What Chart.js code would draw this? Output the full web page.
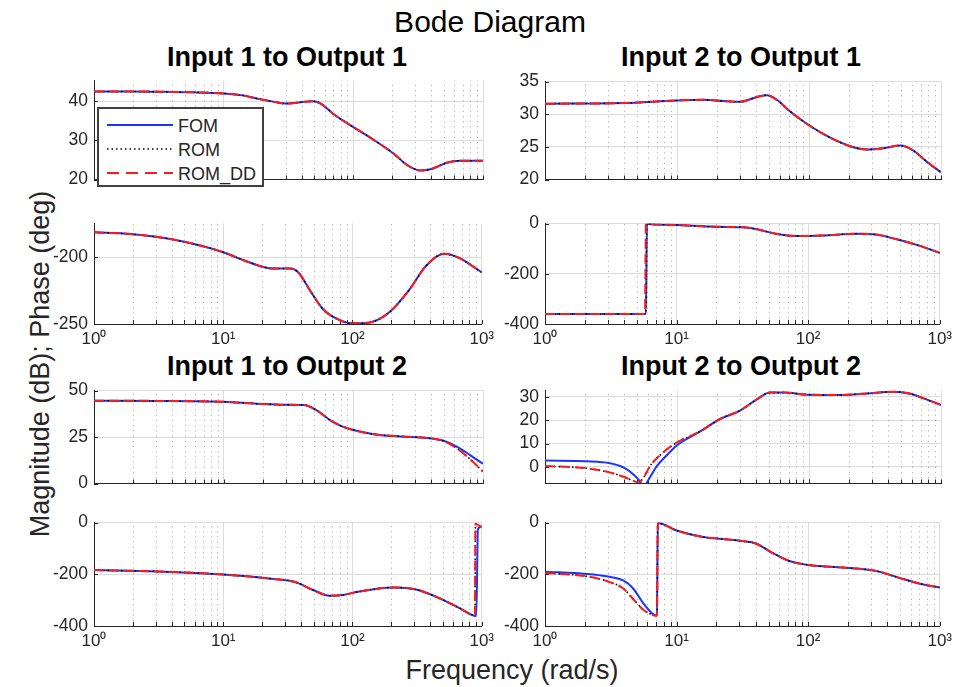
<!DOCTYPE html>
<html>
<head>
<meta charset="utf-8">
<title>Bode Diagram</title>
<script src="https://cdn.jsdelivr.net/npm/chart.js@4.4.1/dist/chart.umd.min.js"></script>
<style>
  body { margin: 0; background: #fff; }
  #wrap { position: relative; width: 971px; height: 687px; overflow: hidden;
          font-family: "Liberation Sans", Arial, Helvetica, sans-serif; color: #262626; }
  #wrap canvas { position: absolute; }
  .txt { position: absolute; white-space: nowrap; line-height: 1; transform: translate(-50%, -50%); }
  .main { font-size: 30px; color: #000; }
  .sub { font-size: 27px; font-weight: bold; color: #000; }
  .lab { font-size: 27px; }
  #ylab { transform: translate(-50%, -50%) rotate(-90deg); }
  #legend { position: absolute; left: 97px; top: 107px; width: 163px; height: 76px;
            border: 2px solid #404040; background: #fff; z-index: 5; }
  #legend .row { position: absolute; left: 0; height: 20px; width: 160px; }
  #legend svg { position: absolute; left: 6px; top: 0; }
  #legend span { position: absolute; left: 79px; top: 1px; font-size: 18px; color: #262626; }
</style>
</head>
<body>
<div id="wrap">
  <div class="txt main" style="left:490px; top:22px;">Bode Diagram</div>
  <div class="txt sub" style="left:287px; top:57px;">Input 1 to Output 1</div>
  <div class="txt sub" style="left:741px; top:57px;">Input 2 to Output 1</div>
  <div class="txt sub" style="left:287px; top:366px;">Input 1 to Output 2</div>
  <div class="txt sub" style="left:741px; top:366px;">Input 2 to Output 2</div>
  <div class="txt lab" id="ylab" style="left:40px; top:364px;">Magnitude (dB); Phase (deg)</div>
  <div class="txt lab" style="left:512px; top:670px;">Frequency (rad/s)</div>

  <div id="legend">
    <div class="row" style="top:6px;">
      <svg width="70" height="20"><line x1="2" y1="10" x2="68" y2="10" stroke="#1a35ff" stroke-width="1.8"/></svg>
      <span>FOM</span>
    </div>
    <div class="row" style="top:30px;">
      <svg width="70" height="20"><line x1="2" y1="10" x2="68" y2="10" stroke="#000" stroke-width="1.5" stroke-dasharray="1.5 3"/></svg>
      <span>ROM</span>
    </div>
    <div class="row" style="top:54px;">
      <svg width="70" height="20"><line x1="2" y1="10" x2="68" y2="10" stroke="#ff1a1a" stroke-width="1.8" stroke-dasharray="12 7"/></svg>
      <span>ROM_DD</span>
    </div>
  </div>
</div>

<script>
// frequencies (rad/s) and responses

// Input 1 to Output 1
const w_i1o1_mag = [1, 2, 3.5, 5.6, 10, 14, 18, 24, 30, 38, 48, 56, 71, 100, 144, 205, 260, 329, 393, 460, 525, 668, 1000];
const fom_i1o1_mag = [42.5, 42.5, 42.4, 42.3, 42.0, 41.5, 40.7, 39.9, 39.4, 39.7, 40.0, 39.4, 36.6, 33.4, 30.1, 26.6, 23.7, 22.3, 22.6, 23.5, 24.3, 24.8, 24.8];
const w_i1o1_ph = [1, 1.92, 4.1, 10, 13.5, 20.4, 24.4, 32.8, 38, 46.6, 59, 79.5, 100, 136, 193, 275, 370, 512, 668, 1000];
const fom_i1o1_ph = [-181.6, -182.9, -187, -196.4, -201.4, -207.4, -208.6, -208.6, -211.4, -224.5, -238.8, -247.1, -249.5, -248.8, -241.2, -224.5, -206.7, -197.6, -200.7, -211.4];

// Input 2 to Output 1
const w_i2o1_mag = [1, 3.9, 10, 15.9, 22.5, 30, 40, 48, 57, 72, 100, 145, 205, 275, 367, 492, 620, 783, 1000];
const fom_i2o1_mag = [31.6, 31.7, 32.1, 32.2, 32.0, 31.9, 32.6, 32.9, 32.2, 30.4, 28.3, 26.4, 25.1, 24.6, 24.8, 25.2, 24.4, 22.7, 21.1];
const w_i2o1_ph = [1, 5.85, 5.95, 6.5, 10, 20, 32, 40, 57, 81, 129, 231, 327, 464, 697, 1000];
const w_i2o1_ph_dd = [1, 5.75, 5.85, 6.5, 10, 20, 32, 40, 57, 81, 129, 231, 327, 464, 697, 1000];
const fom_i2o1_ph = [-360, -360, -1, -3, -6, -13, -15, -22, -41, -50, -48, -41, -44, -62, -88, -117];

// Input 1 to Output 2
const w_i1o2_mag = [1, 3, 10, 18, 30, 41.5, 52.6, 66.6, 80, 100, 144, 231, 370, 497, 631, 795, 1000];
const fom_i1o2_mag = [44.5, 44.4, 43.9, 42.9, 42.3, 42.2, 39.2, 33.9, 31.0, 28.8, 26.5, 25.3, 24.5, 23.0, 19.7, 15.3, 10.6];
const dd_i1o2_mag = [44.5, 44.4, 43.9, 42.9, 42.3, 42.2, 39.2, 33.9, 31.0, 28.8, 26.5, 25.3, 24.5, 22.8, 18.8, 13.1, 6.4];
const w_i1o2_ph = [1, 3.08, 10, 24.4, 36, 49.5, 66.6, 84, 113, 205, 310, 468, 668, 908, 935, 1000];
const fom_i1o2_ph = [-184, -189, -201, -218, -230, -261, -283, -280, -267, -251, -259, -292, -330, -361, -25, -15];
const w_i1o2_ph_dd = [1, 3.08, 10, 24.4, 36, 49.5, 66.6, 84, 113, 205, 310, 468, 668, 885, 895, 1000];
const dd_i1o2_ph = [-184, -189, -201, -218, -230, -261, -283, -280, -267, -251, -259, -292, -330, -358, -5, -20];

// Input 2 to Output 2
const w_i2o2_mag = [1, 2.07, 3.1, 3.93, 4.68, 5.25, 5.55, 6.07, 7.03, 8.4, 10, 15, 21.2, 30, 40, 50.8, 64, 100, 172, 275, 437, 585, 783, 1000];
const fom_i2o2_mag = [2.7, 2.4, 1.6, -0.2, -3.2, -6.2, -8.5, -5.6, 0.3, 5.1, 9.3, 15.2, 20.5, 24.1, 28.8, 31.8, 31.8, 30.9, 30.8, 31.4, 32.2, 31.3, 28.8, 26.5];
const w_i2o2_mag_rom = [1, 2.07, 3.1, 3.93, 4.68, 5.1, 5.6, 6.25, 7.9, 10, 15, 21.2, 30, 40, 50.8, 64, 100, 172, 275, 437, 585, 783, 1000];
const rom_i2o2_mag = [0.4, -0.6, -2.4, -4.2, -6.0, -6.6, -4.4, 0.4, 6.3, 10.5, 15.2, 20.5, 24.1, 28.8, 31.8, 31.8, 30.9, 30.8, 31.4, 32.2, 31.3, 28.8, 26.5];
const w_i2o2_ph = [1, 2.07, 2.93, 3.93, 4.68, 5.56, 6.62, 7.1, 7.2, 10, 15.9, 21.2, 31.9, 40, 53.8, 72, 100, 183, 327, 492, 738, 1000];
const fom_i2o2_ph = [-190, -199, -208, -224, -255, -311, -354, -360, -2, -31, -56, -63, -72, -81, -118, -149, -164, -174, -187, -214, -239, -251];
const rom_i2o2_ph = [-195, -208, -226, -255, -296, -336, -358, -360, -2, -31, -56, -63, -72, -81, -118, -149, -164, -174, -187, -214, -239, -251];

// axis ticks
const decadeSup = ['\u2070', '\u00b9', '\u00b2', '\u00b3'];
const xTicks = [];
[1, 10, 100].forEach(d => { for (let k = 1; k < 10; k++) xTicks.push(d * k); });
xTicks.push(1000);

const GRID = '#dcdcdc';
const AXIS = '#262626';
const AX_W = 62, PAD_T = 12, PAD_R = 16;

Chart.defaults.font.family = '"Liberation Sans", Arial, Helvetica, sans-serif';

const isDecade = v => Math.abs(Math.log10(v) - Math.round(Math.log10(v))) < 1e-6;
const pts = (w, v) => w.map((x, i) => ({ x: x, y: v[i] }));

// dotted minor grid plus the small inward tick marks
const minorGrid = {
  id: 'minorGrid',
  beforeDatasetsDraw(chart) {
    const { ctx, chartArea: a, scales: { x, y } } = chart;
    ctx.save();
    ctx.lineWidth = 1;
    ctx.strokeStyle = 'rgba(0,0,0,0.3)';
    ctx.setLineDash([1.2, 4]);
    xTicks.filter(v => !isDecade(v)).forEach(v => {
      const px = Math.round(x.getPixelForValue(v)) + 0.5;
      ctx.beginPath(); ctx.moveTo(px, a.bottom); ctx.lineTo(px, a.top); ctx.stroke();
    });
    ctx.setLineDash([]);
    ctx.strokeStyle = AXIS;
    xTicks.forEach(v => {
      const px = Math.round(x.getPixelForValue(v)) + 0.5;
      ctx.beginPath(); ctx.moveTo(px, a.bottom); ctx.lineTo(px, a.bottom - 4); ctx.stroke();
    });
    y.ticks.forEach(t => {
      const py = Math.round(y.getPixelForValue(t.value)) + 0.5;
      ctx.beginPath(); ctx.moveTo(a.left, py); ctx.lineTo(a.left + 4, py); ctx.stroke();
    });
    ctx.restore();
  }
};

function makePanel(p) {
  const xh = p.xLabels ? 30 : 2;
  const w = p.rect.w + AX_W + PAD_R, h = p.rect.h + PAD_T + xh;
  const c = document.createElement('canvas');
  c.width = w; c.height = h;
  c.style.width = w + 'px'; c.style.height = h + 'px';
  c.style.left = (p.rect.x - AX_W) + 'px';
  c.style.top = (p.rect.y - PAD_T) + 'px';
  document.getElementById('wrap').appendChild(c);

  new Chart(c, {
    type: 'line',
    data: {
      datasets: [{
        label: 'FOM',
        data: pts(p.fom[0], p.fom[1]),
        borderColor: '#1a35ff',
        borderWidth: 2,
        order: 2
      }, {
        label: 'ROM',
        data: pts(p.rom[0], p.rom[1]),
        borderColor: '#000000',
        borderWidth: 1.6,
        borderDash: [1.5, 3],
        order: 1
      }, {
        label: 'ROM_DD',
        data: pts(p.dd[0], p.dd[1]),
        borderColor: '#ff1a1a',
        borderWidth: 2,
        borderDash: [10, 5],
        order: 0
      }]
    },
    options: {
      responsive: false,
      animation: false,
      events: [],
      layout: { padding: { top: PAD_T, right: PAD_R, left: 0, bottom: 0 } },
      elements: {
        point: { radius: 0 },
        line: { cubicInterpolationMode: 'monotone', fill: false }
      },
      plugins: { legend: { display: false }, tooltip: { enabled: false } },
      scales: {
        x: {
          type: 'logarithmic',
          min: 1,
          max: 1000,
          afterBuildTicks: s => { s.ticks = xTicks.map(v => ({ value: v })); },
          afterFit: s => { s.height = xh; },
          grid: {
            drawTicks: false,
            color: ctx => (ctx.tick && isDecade(ctx.tick.value)) ? GRID : 'rgba(0,0,0,0)'
          },
          border: { color: AXIS, width: 1 },
          ticks: {
            display: p.xLabels,
            autoSkip: false,
            maxRotation: 0,
            padding: 5,
            color: AXIS,
            font: { size: 17 },
            callback: v => isDecade(v) ? '10' + decadeSup[Math.round(Math.log10(v))] : ''
          }
        },
        y: {
          min: p.yMin,
          max: p.yMax,
          afterBuildTicks: s => { s.ticks = p.yTicks.map(v => ({ value: v })); },
          afterFit: s => { s.width = AX_W; },
          grid: { drawTicks: false, color: GRID },
          border: { color: AXIS, width: 1 },
          ticks: { padding: 6, color: AXIS, font: { size: 17.5 }, callback: v => v }
        }
      }
    },
    plugins: [minorGrid]
  });
}

// left column x 94..483, right column x 545..941
const panels = [
  { rect: { x: 94, y: 76, w: 389, h: 118 }, yMin: 20, yMax: 45.3, yTicks: [20, 30, 40], xLabels: false,
    fom: [w_i1o1_mag, fom_i1o1_mag], rom: [w_i1o1_mag, fom_i1o1_mag], dd: [w_i1o1_mag, fom_i1o1_mag] },
  { rect: { x: 94, y: 219, w: 389, h: 105 }, yMin: -250, yMax: -175, yTicks: [-250, -200], xLabels: true,
    fom: [w_i1o1_ph, fom_i1o1_ph], rom: [w_i1o1_ph, fom_i1o1_ph], dd: [w_i1o1_ph, fom_i1o1_ph] },
  { rect: { x: 545, y: 77, w: 396, h: 117 }, yMin: 20, yMax: 35, yTicks: [20, 25, 30, 35], xLabels: false,
    fom: [w_i2o1_mag, fom_i2o1_mag], rom: [w_i2o1_mag, fom_i2o1_mag], dd: [w_i2o1_mag, fom_i2o1_mag] },
  { rect: { x: 545, y: 219, w: 396, h: 105 }, yMin: -400, yMax: 0, yTicks: [-400, -200, 0], xLabels: true,
    fom: [w_i2o1_ph, fom_i2o1_ph], rom: [w_i2o1_ph, fom_i2o1_ph], dd: [w_i2o1_ph_dd, fom_i2o1_ph] },
  { rect: { x: 94, y: 386, w: 389, h: 112 }, yMin: 0, yMax: 50, yTicks: [0, 25, 50], xLabels: false,
    fom: [w_i1o2_mag, fom_i1o2_mag], rom: [w_i1o2_mag, dd_i1o2_mag], dd: [w_i1o2_mag, dd_i1o2_mag] },
  { rect: { x: 94, y: 518, w: 389, h: 108 }, yMin: -400, yMax: 0, yTicks: [-400, -200, 0], xLabels: true,
    fom: [w_i1o2_ph, fom_i1o2_ph], rom: [w_i1o2_ph_dd, dd_i1o2_ph], dd: [w_i1o2_ph_dd, dd_i1o2_ph] },
  { rect: { x: 545, y: 386, w: 396, h: 112 }, yMin: -7.1, yMax: 32.7, yTicks: [0, 10, 20, 30], xLabels: false,
    fom: [w_i2o2_mag, fom_i2o2_mag], rom: [w_i2o2_mag_rom, rom_i2o2_mag], dd: [w_i2o2_mag_rom, rom_i2o2_mag] },
  { rect: { x: 545, y: 518, w: 396, h: 108 }, yMin: -400, yMax: 0, yTicks: [-400, -200, 0], xLabels: true,
    fom: [w_i2o2_ph, fom_i2o2_ph], rom: [w_i2o2_ph, rom_i2o2_ph], dd: [w_i2o2_ph, rom_i2o2_ph] }
];

panels.forEach(makePanel);
</script>
</body>
</html>
